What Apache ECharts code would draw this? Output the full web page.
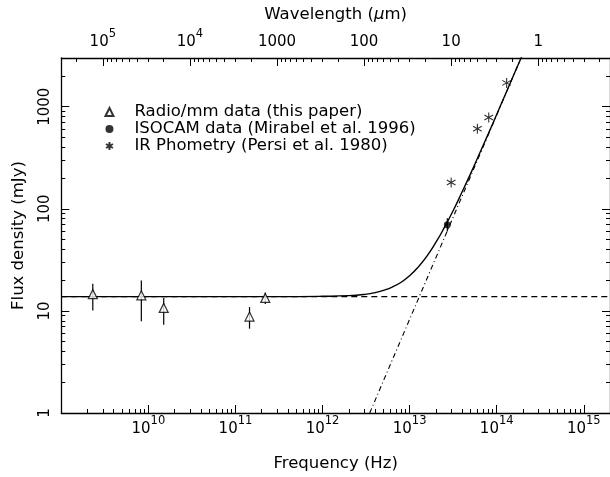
<!DOCTYPE html>
<html><head><meta charset="utf-8">
<script src="https://cdn.jsdelivr.net/npm/echarts@6/dist/echarts.min.js"></script>
<style>html,body{margin:0;padding:0;background:#fff}#c{width:610px;height:477px}</style>
</head><body><div id="c"></div>
<script>
// ---- data ----
const C_UM_HZ = 2.998e14;              // c in micron*Hz
const xRange = [1e9, 2e15];            // Hz
const yRange = [1, 3000];              // mJy
const xLabelExps = [10, 11, 12, 13, 14, 15];
const yLabelVals = [1, 10, 100, 1000];
const wlLabelVals = [1e5, 1e4, 1000, 100, 10, 1];

const radioFreq  = [2.3e9, 8.3e9, 1.5e10, 1.45e11, 2.2e11];
const radioFlux  = [14.6, 14.2, 10.7, 8.8, 13.4];
const radioErrLo = [10.1, 7.9, 7.3, 6.7, 11.7];
const radioErrHi = [18.4, 19.8, 13.4, 10.9, 15.1];

const isoFreq  = [2.71e13];
const isoFlux  = [69.8];
const isoErrLo = [60];
const isoErrHi = [81];

const irFreq = [3.0e13, 6.0e13, 8.1e13, 1.3e14];
const irFlux = [181, 609, 785, 1711];

const modelFreq = [1e9, 1e10, 1e11, 3e11, 1e12, 2e12, 3.2e12, 4e12, 5e12, 6.3e12, 8e12, 1e13, 1.26e13, 1.58e13, 2e13, 2.5e13, 3.2e13, 4e13, 5e13, 6.3e13, 8e13, 1e14, 1.26e14, 1.58e14, 2e14];
const modelFlux = [13.8, 13.8, 13.8, 13.8, 13.9, 14.1, 14.6, 15.1, 15.9, 17.1, 19.1, 22.1, 27, 34.4, 46.8, 65.4, 98, 146, 220, 342, 542, 840, 1325, 2075, 3300];

const flatFreq = [1e9, 2e15];
const flatFlux = [13.8, 13.8];

const plFreq = [3.48e12, 1.9e14];
const plFlux = [1, 3000];

// ---- helpers ----
const L = Math.log10;
const FONT = 'DejaVu Sans';
const FS = 15;      // tick labels
const FT = 16.5;    // axis titles
const FL = 16.5;    // legend
function pts(xs, ys) { return xs.map((x, i) => [L(x), L(ys[i])]); }
function logTicks(lo, hi, major) {
  const out = [];
  for (let n = Math.floor(lo) - 1; n <= Math.ceil(hi); n++) {
    for (let k = 1; k <= 9; k++) {
      if (major !== (k === 1)) continue;
      const v = n + L(k);
      if (v >= lo - 1e-9 && v <= hi + 1e-9) out.push(v);
    }
  }
  return out;
}
const xMin = L(xRange[0]), xMax = L(xRange[1]);
const yMin = L(yRange[0]), yMax = L(yRange[1]);
const wMin = L(C_UM_HZ / xRange[1]), wMax = L(C_UM_HZ / xRange[0]);

const supRich = {
  b: { fontSize: FS, fontFamily: FONT, color: '#000', verticalAlign: 'bottom', lineHeight: 22 },
  s: { fontSize: 11.5, fontFamily: FONT, color: '#000', verticalAlign: 'top', lineHeight: 12 }
};
function powLabel(e) {
  e = Math.round(e);
  if (e <= 3) return '{b|' + Math.pow(10, e) + '}';
  return '{b|10}{s|' + e + '}';
}

const lineBase = { show: true, onZero: false, lineStyle: { color: '#000', width: 1.3 } };
const noLine = { show: false, onZero: false };
function hAxis(pos, min, max, inverse, major, labels, margin, extra) {
  return Object.assign({
    type: 'value', position: pos, min: min, max: max, inverse: inverse,
    axisLine: major ? lineBase : noLine,
    axisTick: { show: true, inside: true, length: major ? 8 : 4, lineStyle: { color: '#000', width: 1 },
      customValues: logTicks(Math.min(min, max), Math.max(min, max), major) },
    axisLabel: labels ? { show: true, customValues: labels, formatter: powLabel, rich: supRich, margin: margin } : { show: false },
    splitLine: { show: false }
  }, extra || {});
}
function vAxis(pos, major, labels, extra) {
  return Object.assign({
    type: 'value', position: pos, min: yMin, max: yMax,
    axisLine: major ? lineBase : noLine,
    axisTick: { show: true, inside: true, length: major ? 8 : 4, lineStyle: { color: '#000', width: 1 },
      customValues: logTicks(yMin, yMax, major) },
    axisLabel: labels ? { show: true, customValues: labels, rotate: 90, margin: 9,
      formatter: v => String(Math.round(Math.pow(10, v))), color: '#000', fontSize: FS, fontFamily: FONT } : { show: false },
    splitLine: { show: false }
  }, extra || {});
}

function errorBars(freq, lo, hi) {
  return {
    type: 'custom', xAxisIndex: 0, yAxisIndex: 0, silent: true, z: 3,
    data: freq.map((f, i) => [L(f), L(lo[i]), L(hi[i])]),
    encode: { x: 0, y: [1, 2] },
    renderItem: (params, api) => {
      const a = api.coord([api.value(0), api.value(1)]);
      const b = api.coord([api.value(0), api.value(2)]);
      return { type: 'line', shape: { x1: a[0], y1: a[1], x2: b[0], y2: b[1] },
        style: { stroke: '#000', lineWidth: 1.2 } };
    }
  };
}

const STAR = 'path://M5,0L5,10M0.67,2.5L9.33,7.5M0.67,7.5L9.33,2.5';

const option = {
  animation: false,
  backgroundColor: '#fff',
  textStyle: { fontFamily: FONT, color: '#000' },
  grid: { left: 61.3, top: 58, width: 550.2, height: 356.7, containLabel: false },
  legend: {
    orient: 'vertical', left: 98.5, top: 98.5, itemWidth: 8, itemHeight: 8, itemGap: 0,
    textStyle: { fontSize: FL, fontFamily: FONT, color: '#000', lineHeight: 16, padding: [0, 0, 0, 16] },
    data: [
      { name: 'Radio/mm data (this paper)' },
      { name: 'ISOCAM data (Mirabel et al. 1996)' },
      { name: 'IR Phometry (Persi et al. 1980)' }
    ]
  },
  xAxis: [
    hAxis('bottom', xMin, xMax, false, true, xLabelExps, 2, {
      name: 'Frequency (Hz)', nameLocation: 'middle', nameGap: 42,
      nameTextStyle: { fontSize: FT, fontFamily: FONT, color: '#000' } }),
    hAxis('bottom', xMin, xMax, false, false, null, 2),
    hAxis('top', wMin, wMax, true, true, wlLabelVals.map(L), 8, {
      name: 'Wavelength ({i|μ}m)', nameLocation: 'middle', nameGap: 31,
      nameTextStyle: { fontSize: FT, fontFamily: FONT, color: '#000',
        rich: { i: { fontSize: FT, fontFamily: FONT, fontStyle: 'italic', color: '#000' } } } }),
    hAxis('top', wMin, wMax, true, false, null, 8)
  ],
  yAxis: [
    vAxis('left', true, yLabelVals.map(L), {
      name: 'Flux density (mJy)', nameLocation: 'middle', nameGap: 34,
      nameTextStyle: { fontSize: FT, fontFamily: FONT, color: '#000' } }),
    vAxis('left', false, null),
    vAxis('right', true, null),
    vAxis('right', false, null)
  ],
  series: [
    { type: 'line', name: 'model', data: pts(modelFreq, modelFlux), showSymbol: false, smooth: 0.5,
      lineStyle: { color: '#000', width: 1.4 }, z: 2, clip: true },
    { type: 'line', name: 'flat', data: pts(flatFreq, flatFlux), showSymbol: false,
      lineStyle: { color: '#000', width: 1.1, type: [6, 4] }, z: 1 },
    { type: 'line', name: 'powerlaw', data: pts(plFreq, plFlux), showSymbol: false,
      lineStyle: { color: '#000', width: 1.1, type: [5, 3, 1, 3] }, z: 1 },
    errorBars(radioFreq, radioErrLo, radioErrHi),
    errorBars(isoFreq, isoErrLo, isoErrHi),
    { type: 'scatter', name: 'Radio/mm data (this paper)', data: pts(radioFreq, radioFlux),
      symbol: 'triangle', symbolSize: 9,
      itemStyle: { color: '#fff', borderColor: '#000', borderWidth: 1.2 }, z: 5 },
    { type: 'scatter', name: 'ISOCAM data (Mirabel et al. 1996)', data: pts(isoFreq, isoFlux),
      symbol: 'circle', symbolSize: 7, itemStyle: { color: '#000' }, z: 5 },
    { type: 'scatter', name: 'IR Phometry (Persi et al. 1980)', data: pts(irFreq, irFlux),
      symbol: STAR, symbolSize: 10, symbolKeepAspect: true,
      itemStyle: { color: 'none', borderColor: '#000', borderWidth: 1.1 }, z: 5 }
  ]
};

const chart = echarts.init(document.getElementById('c'), null, { renderer: 'canvas' });
chart.setOption(option);
</script>
</body></html>
